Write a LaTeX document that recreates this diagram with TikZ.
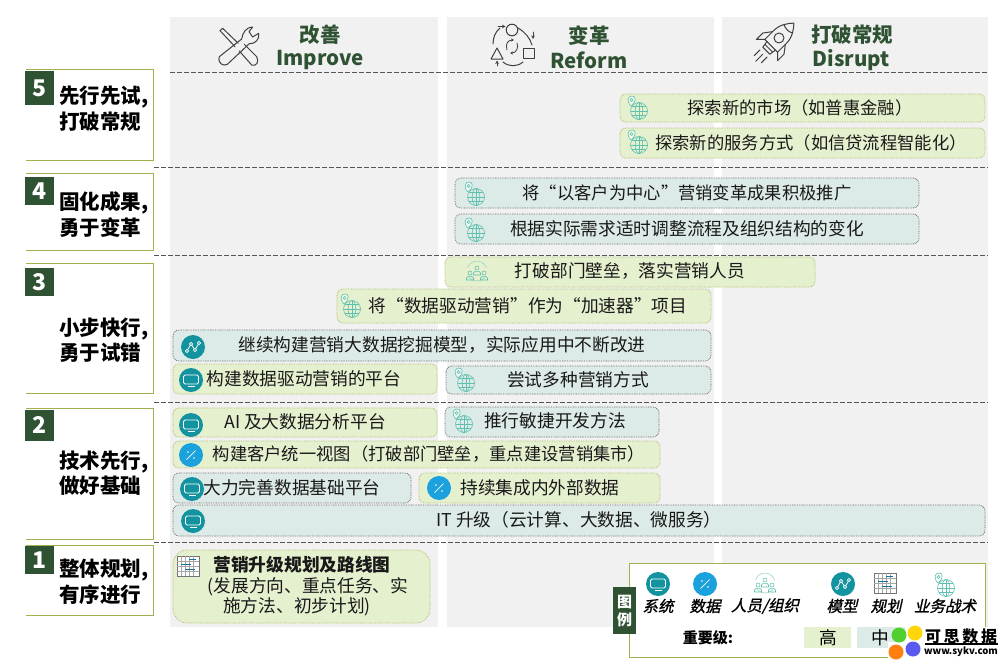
\documentclass[tikz,border=0pt]{standalone}
\usepackage{fontspec}
\usetikzlibrary{arrows.meta}
\setmainfont{Noto Sans CJK SC}
\newfontfamily\cjkit[FakeSlant=0.22,FakeBold=1.2]{Noto Sans CJK SC}
\definecolor{dkgreen}{HTML}{2F5233}
\definecolor{olive}{HTML}{A3B050}
\definecolor{colgray}{HTML}{F1F1F2}
\definecolor{chipg}{HTML}{E5F0CF}
\definecolor{chipt}{HTML}{DDEBE8}
\definecolor{sysc}{HTML}{12939F}
\definecolor{datac}{HTML}{1BA1DC}
\definecolor{globec}{HTML}{5FC0AF}
\definecolor{dashc}{HTML}{555555}
\definecolor{wmg}{HTML}{50D030}
\definecolor{wmy}{HTML}{FFD60A}
\definecolor{wmo}{HTML}{FF7F0F}
\definecolor{wmb}{HTML}{5A5AF0}
\tikzset{
  x=1pt,y=-1pt,
  colbg/.style={fill=colgray,draw=none},
  sepline/.style={draw=dashc,line width=0.9pt,dash pattern=on 4.5pt off 2.5pt},
  lev/.style={draw=olive,line width=0.9pt},
  numbox/.style={fill=dkgreen,draw=none},
  numtxt/.style={text=white,font=\fontsize{23}{23}\selectfont\bfseries,inner sep=0pt},
  levtxt/.style={anchor=west,inner sep=0pt,font=\fontsize{20.5}{20.5}\selectfont\bfseries,text=black},
  hdcn/.style={text=dkgreen,inner sep=0pt,font=\fontsize{20.5}{20.5}\selectfont\bfseries},
  hden/.style={text=dkgreen,inner sep=0pt,font=\fontsize{20.5}{20.5}\selectfont\bfseries},
  chipgreen/.style={fill=chipg,draw=olive!85,line width=0.7pt,dash pattern=on 0.8pt off 0.9pt,rounded corners=6pt},
  chipteal/.style={fill=chipt,draw=black!60,line width=0.7pt,dash pattern=on 0.8pt off 0.9pt,rounded corners=6pt},
  chiptxt/.style={inner sep=0pt,text=black!90,font=\fontsize{17.7}{21}\selectfont},
  chiptxts/.style={inner sep=0pt,text=black!90,font=\fontsize{17.3}{21}\selectfont},
  leglab/.style={inner sep=0pt,font=\fontsize{15.5}{15.5}\cjkit\selectfont},
  ico/.style={draw=#1,line width=0.6pt,fill=none},
  hico/.style={draw=black!75,line width=1pt,fill=none,line join=round,line cap=round},
}
\newcommand{\sysicon}[2]{\begin{scope}[shift={(#1,#2)}]
 \fill[sysc] (0,0) circle (12);
 \draw[white,line width=0.8pt,rounded corners=1.5pt] (-7.5,-5) rectangle (7.5,4);
 \draw[white,line width=0.8pt] (-3.5,6.5) -- (3.5,6.5);
\end{scope}}
\newcommand{\dataicon}[2]{\begin{scope}[shift={(#1,#2)}]
 \fill[datac] (0,0) circle (12);
 \draw[white,line width=0.7pt] (-4.5,4.5) -- (4.5,-4.5);
 \fill[white] (-3,-3) circle (0.9) (3,3) circle (0.9);
\end{scope}}
\newcommand{\modelicon}[2]{\begin{scope}[shift={(#1,#2)}]
 \fill[sysc] (0,0) circle (12);
 \draw[white,line width=0.8pt] (-6,4) -- (-2,-3) -- (2,3) -- (6,-4);
 \foreach \a/\b in {-6/4,-2/-3,2/3,6/-4} \draw[white,fill=sysc,line width=0.7pt] (\a,\b) circle (1.6);
\end{scope}}
\newcommand{\globeicon}[2]{\begin{scope}[shift={(#1,#2)}]
 \draw[ico=globec] (2,2) circle (8.5);
 \draw[ico=globec] (2,2) ellipse (3.8 and 8.5);
 \draw[ico=globec] (-6.5,2) -- (10.5,2) (-5,-2.5) -- (9,-2.5) (-5,6.5) -- (9,6.5) (2,-6.5) -- (2,10.5);
 \draw[ico=globec,fill=white,fill opacity=0.6] (-6,-3) .. controls (-11,-8) and (-9,-13) .. (-5,-13) .. controls (-1,-13) and (0,-8) .. (-6,-3) -- cycle;
 \draw[ico=globec] (-5.3,-9) circle (1.6);
\end{scope}}
\newcommand{\peopleglyph}[1]{%
 \draw[ico=globec!70,line width=0.5pt] (0,0) circle (10);
 \fill[#1] (-11,-3) rectangle (11,6);
 \foreach \a/\b in {0/-3,-7/2,7/2}{
  \draw[ico=globec,line width=0.55pt] (\a,\b) circle (2);
  \draw[ico=globec,line width=0.55pt] (\a-3.5,\b+7) -- (\a-3.5,\b+5) .. controls (\a-3,\b+2.5) and (\a+3,\b+2.5) .. (\a+3.5,\b+5) -- (\a+3.5,\b+7) -- cycle;}}
\newcommand{\peopleicon}[2]{\begin{scope}[shift={(#1,#2)}]\peopleglyph{white}\end{scope}}
\newcommand{\peoplechip}[2]{\begin{scope}[shift={(#1,#2)}]\peopleglyph{chipg}\end{scope}}
\newcommand{\planicon}[2]{\begin{scope}[shift={(#1,#2)}]
 \fill[white] (-11,-10) rectangle (11,10);
 \draw[black!55,line width=0.8pt] (-11,-10) rectangle (11,10);
 \foreach \v in {-7,-3,1,5} \draw[black!35,line width=0.5pt] (\v,-10) -- (\v,10);
 \foreach \v in {-5,0,5} \draw[black!35,line width=0.5pt] (-11,\v) -- (11,\v);
 \draw[datac!70!black,line width=0.8pt] (-7,-2) -- (3,-2) (-3,3) -- (7,3) (1,-7) -- (8,-7);
\end{scope}}
\newcommand{\chipbox}[5]{\draw[#5] (#1,#2) rectangle (#3,#4);}
\newcommand{\levbox}[2]{\draw[lev] (26,#1) -- (153,#1) -- (153,#2) -- (26,#2);}
\begin{document}
\begin{tikzpicture}[x=1pt,y=-1pt]
\useasboundingbox (0,0) rectangle (1003,664);
\fill[white] (0,0) rectangle (1003,664);
% columns
\fill[colbg] (170,17) rectangle (438,627);
\fill[colbg] (447,17) rectangle (714,627);
\fill[colbg] (722,17) rectangle (988,627);
% headers
\node[hdcn] (h1a) at (320,35) {改善};
\node[hden] (h1b) at (320,60) {Improve};
\node[hdcn] (h2a) at (589,36) {变革};
\node[hden] (h2b) at (589,60) {Reform};
\node[hdcn] (h3a) at (852,35) {打破常规};
\node[hden] (h3b) at (851,60) {Disrupt};
% wrench + screwdriver
\begin{scope}[shift={(210,15)},scale=1/3]
 \draw[hico] (28,125) -- (95,72) .. controls (98,55) and (105,38) .. (128,36) -- (117,50) -- (128,66) -- (146,55) .. controls (150,72) and (135,88) .. (118,86) -- (52,148) .. controls (40,155) and (22,145) .. (28,125) -- cycle;
 \draw[hico] (30,47) -- (38,40) -- (85,85);
 \draw[hico] (30,47) -- (75,95);
 \draw[hico] (88,108) -- (125,150) .. controls (140,155) and (148,140) .. (140,125) -- (103,88);
\end{scope}
% reform icon
\draw[hico] (512,30) circle (5.8);
\draw[hico] (523,48) rectangle (534,58);
\draw[hico] (497,48) -- (491,59) -- (503,59) -- cycle;
\draw[hico] (500,28) .. controls (495,32) and (493,38) .. (493,44);
\draw[hico] (518,28) .. controls (525,32) and (530,38) .. (532,45);
\draw[hico] (503,62) .. controls (509,67) and (517,67) .. (523,62);
\draw[hico,line width=0.8pt,-{Stealth[length=3.5pt,width=3.5pt]}] (498,26.5) -- (505.5,26.5);
\draw[hico,line width=0.8pt,-{Stealth[length=3.5pt,width=3.5pt]}] (533,32) -- (533,39);
\draw[hico,line width=0.8pt,-{Stealth[length=3.5pt,width=3.5pt]}] (497,66) -- (497,60.5);
\draw[hico,line width=0.8pt,-{Stealth[length=3pt,width=3pt]}] (507,50) .. controls (505,44) and (508,40) .. (514,40);
\draw[hico,line width=0.8pt,-{Stealth[length=3pt,width=3pt]}] (517,43) .. controls (519,48) and (516,53) .. (510,53);
% rocket
\begin{scope}[shift={(779,38)},rotate=-45]
 \draw[hico] (-9,11) -- (-9,-2) .. controls (-9,-10) and (-4,-17) .. (0,-21) .. controls (4,-17) and (9,-10) .. (9,-2) -- (9,11) -- cycle;
 \draw[hico] (-6,-13) .. controls (-2,-11) and (2,-11) .. (6,-13);
 \draw[hico] (0,0) circle (5);
 \draw[hico] (-9,0) -- (-15,8) -- (-15,17) -- (-9,11);
 \draw[hico] (9,0) -- (15,8) -- (15,17) -- (9,11);
 \draw[hico] (-6,11) -- (-5,18) -- (5,18) -- (6,11) (-5.5,14.5) -- (5.5,14.5);
 \draw[hico] (0,23) -- (0,33) (-5,22) -- (-5,30) (5,22) -- (5,30);
\end{scope}
% left level boxes
\levbox{69}{160}
\levbox{173}{250}
\levbox{263}{393}
\levbox{408}{539}
\levbox{545}{615}
\fill[numbox] (25,71) rectangle (54,105);
\fill[numbox] (25,177) rectangle (54,205);
\fill[numbox] (25,268) rectangle (54,296);
\fill[numbox] (25,410) rectangle (54,441);
\fill[numbox] (25,546) rectangle (54,574);
\node[numtxt] (n5) at (39.5,88) {5};
\node[numtxt] (n4) at (39.5,191) {4};
\node[numtxt] (n3) at (39.5,282) {3};
\node[numtxt] (n2) at (39.5,425) {2};
\node[numtxt] (n1) at (39.5,560) {1};
\node[levtxt] (l5a) at (59,97) {先行先试,};
\node[levtxt] (l5b) at (59,122) {打破常规};
\node[levtxt] (l4a) at (59,203) {固化成果,};
\node[levtxt] (l4b) at (59,228) {勇于变革};
\node[levtxt] (l3a) at (59,329) {小步快行,};
\node[levtxt] (l3b) at (59,353) {勇于试错};
\node[levtxt] (l2a) at (59,462) {技术先行,};
\node[levtxt] (l2b) at (59,486) {做好基础};
\node[levtxt] (l1a) at (59,570) {整体规划,};
\node[levtxt] (l1b) at (59,595) {有序进行};
% separators
\draw[sepline] (170,72) -- (988,72);
\draw[sepline] (154,167) -- (988,167);
\draw[sepline] (154,255) -- (988,255);
\draw[sepline] (154,402) -- (988,402);
\draw[sepline] (154,542) -- (988,542);
% chips
\chipbox{620}{94}{985}{122}{chipgreen}
\chipbox{620}{128}{985}{158}{chipgreen}
\chipbox{455}{178}{919}{208}{chipteal}
\chipbox{455}{214}{919}{244}{chipteal}
\chipbox{445}{257}{815}{287}{chipgreen}
\chipbox{337}{289}{711}{323}{chipgreen}
\chipbox{173}{330}{711}{361}{chipteal}
\chipbox{173}{364}{437}{394}{chipgreen}
\chipbox{446}{366}{711}{394}{chipteal}
\chipbox{173}{408}{437}{437}{chipgreen}
\chipbox{445}{407}{659}{437}{chipteal}
\chipbox{173}{441}{660}{468}{chipgreen}
\chipbox{173}{473}{411}{503}{chipteal}
\chipbox{419}{473}{660}{503}{chipgreen}
\chipbox{173}{505}{985}{536}{chipteal}
\draw[chipgreen,rounded corners=14pt] (173,550) rectangle (430,623);
% chip icons
\globeicon{637}{109}\globeicon{637}{143}
\globeicon{474}{195}\globeicon{474}{231}
\peoplechip{477}{271}
\globeicon{350}{307}
\modelicon{193}{347}
\sysicon{191}{380}
\globeicon{464}{381}
\sysicon{191}{425}
\globeicon{462}{422}
\dataicon{191}{455}
\sysicon{192}{489}
\dataicon{439}{488}
\sysicon{193}{521}
\planicon{188}{566}
% chip texts
\node[chiptxts] (t1) at (800,108) {探索新的市场（如普惠金融）};
\node[chiptxts] (t2) at (811,143) {探索新的服务方式（如信贷流程智能化）};
\node[chiptxts] (t3) at (687,193) {将“以客户为中心”营销变革成果积极推广};
\node[chiptxt] (t4) at (687,229) {根据实际需求适时调整流程及组织结构的变化};
\node[chiptxt] (t5) at (630,271) {打破部门壁垒，落实营销人员};
\node[chiptxt] (t6) at (528,306) {将“数据驱动营销”作为“加速器”项目};
\node[chiptxt] (t7) at (442,345) {继续构建营销大数据挖掘模型，实际应用中不断改进};
\node[chiptxt] (t8) at (304,379) {构建数据驱动营销的平台};
\node[chiptxt] (t9) at (578,380) {尝试多种营销方式};
\node[chiptxt] (t10) at (305,422) {AI 及大数据分析平台};
\node[chiptxt] (t11) at (555,421) {推行敏捷开发方法};
\node[chiptxts] (t12) at (429,454) {构建客户统一视图（打破部门壁垒，重点建设营销集市）};
\node[chiptxt] (t13) at (292,488) {大力完善数据基础平台};
\node[chiptxt] (t14) at (540,488) {持续集成内外部数据};
\node[chiptxt] (t15) at (579,520) {IT 升级（云计算、大数据、微服务）};
\node[chiptxt,font=\fontsize{17.7}{21}\selectfont\bfseries] (t16) at (302,565) {营销升级规划及路线图};
\node[chiptxt] (t17) at (308,587) {(发展方向、重点任务、实};
\node[chiptxt] (t18) at (297,607) {施方法、初步计划)};
% legend
\draw[lev,fill=white] (629,563) rectangle (985,657);
\fill[dkgreen] (613,587) rectangle (636,634);
\node[inner sep=0pt,text=white,font=\fontsize{15}{15}\selectfont\bfseries] (lg1) at (624.5,602) {图};
\node[inner sep=0pt,text=white,font=\fontsize{15}{15}\selectfont\bfseries] (lg2) at (624.5,620) {例};
\sysicon{658}{584}
\dataicon{705}{584}
\peopleicon{765}{583}
\modelicon{843}{584}
\planicon{885}{583}
\globeicon{944}{586}
\node[leglab] (a1) at (658,606) {系统};
\node[leglab] (a2) at (705,606) {数据};
\node[leglab] (a3) at (765,606) {人员/组织};
\node[leglab] (a4) at (842,606) {模型};
\node[leglab] (a5) at (886,606) {规划};
\node[leglab] (a6) at (945,606) {业务战术};
\node[inner sep=0pt,font=\fontsize{15}{15}\selectfont\bfseries] (imp) at (708,638) {重要级:};
\fill[chipg] (804,627) rectangle (851,648);
\fill[chipt] (857,627) rectangle (905,648);
\node[inner sep=0pt,font=\fontsize{17.7}{17}\selectfont] (hi) at (828,638) {高};
\node[inner sep=0pt,font=\fontsize{17.7}{17}\selectfont] (mid) at (880,638) {中};
% watermark
\fill[white] (923,627) rectangle (1003,660);
\fill[white] (888,642) rectangle (923,660);
\fill[wmg] (899,635) circle (7.5);
\fill[wmy] (915,633) circle (7.5);
\fill[wmo] (896,652) circle (7.5);
\fill[wmb] (913,649) circle (7.5);
\node[inner sep=0pt,font=\fontsize{16}{16}\selectfont\bfseries] (w1) at (961,636) {可\,思\,数\,据};
\draw[black,line width=1.5pt] (925,644) -- (998,644);
\node[inner sep=0pt,font=\fontsize{9.6}{11}\selectfont\bfseries] (w2) at (961,652) {www.sykv.com};
\end{tikzpicture}
\end{document}
